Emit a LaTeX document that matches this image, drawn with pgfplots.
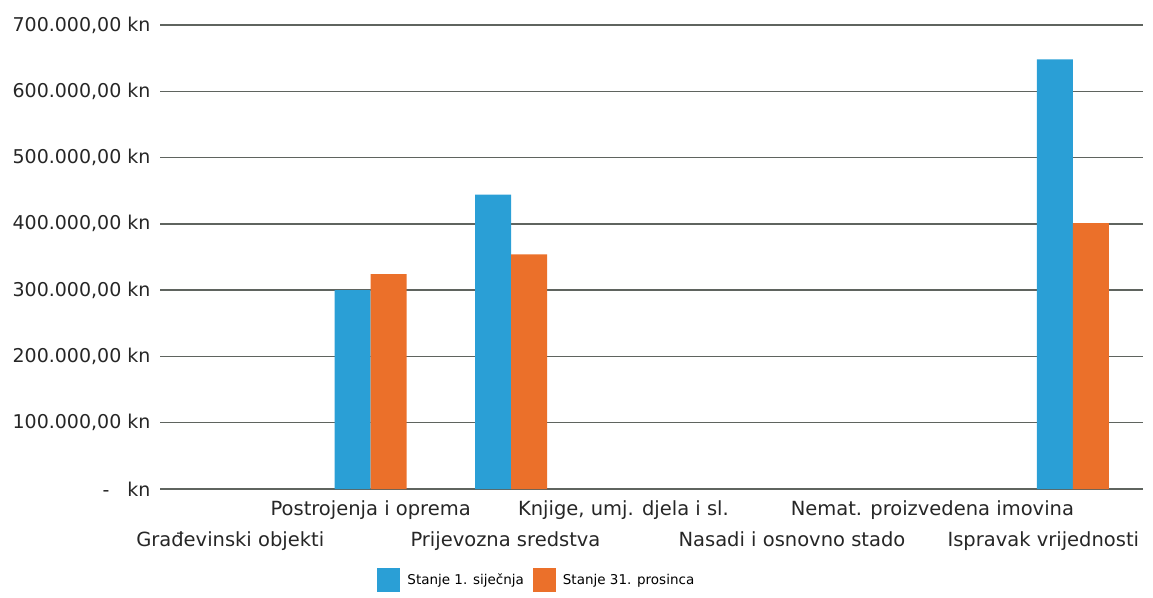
\documentclass[border=0pt]{standalone}
\usepackage{pgfplots}
\pgfplotsset{compat=1.18}
\usepackage{fontspec}
\setmainfont{DejaVu Sans}
\definecolor{cblue}{RGB}{42,159,214}
\definecolor{corange}{RGB}{235,112,42}
\definecolor{cgrid}{RGB}{95,100,95}
\begin{document}
\begin{tikzpicture}
\useasboundingbox (0,0) rectangle (1153pt,597pt);
\begin{axis}[
  at={(160pt,108pt)}, anchor=south west,
  scale only axis, width=983pt, height=464pt,
  xmin=-0.5, xmax=6.5, ymin=0, ymax=700000,
  ybar=0pt, bar width=36pt,
  axis line style={draw=none},
  major tick length=0pt,
  ymajorgrids, grid style={cgrid, line width=1.5pt},
  scaled y ticks=false,
  ytick={0,100000,200000,300000,400000,500000,600000,700000},
  yticklabels={{-\hspace{18pt}kn},{100.000,00 kn},{200.000,00 kn},{300.000,00 kn},{400.000,00 kn},{500.000,00 kn},{600.000,00 kn},{700.000,00 kn}},
  yticklabel style={font=\fontsize{19}{22}\selectfont, text=black!85, xshift=-6pt},
  xtick={0,1,1.96,2.8,4,5,5.79},
  xticklabels={{\strut\\[9pt]\strut Građevinski objekti},{\strut Postrojenja i oprema},{\strut\\[9pt]\strut Prijevozna sredstva},{\strut Knjige, umj. djela i sl.},{\strut\\[9pt]\strut Nasadi i osnovno stado},{\strut Nemat. proizvedena imovina},{\strut\\[9pt]\strut Ispravak vrijednosti}},
  xticklabel style={align=center, anchor=north, font=\fontsize{19.5}{22}\selectfont, text=black!85, yshift=-8pt},
  legend columns=2,
  legend style={at={(0.221,-0.196)}, anchor=west, draw=none, fill=none, inner sep=0pt,
    font=\fontsize{13.5}{16}\selectfont,
    /tikz/every even column/.append style={column sep=7pt}},
  legend image code/.code={\fill[#1,draw=none] (0pt,-12pt) rectangle (23pt,12pt);},
]
\addplot[fill=cblue, draw=none] coordinates {(1,300000) (2,444000) (6,648000)};
\addplot[fill=corange, draw=none] coordinates {(1,324000) (2,354000) (6,401000)};
\legend{\hspace{5pt}Stanje 1. siječnja, \hspace{5pt}Stanje 31. prosinca}
\end{axis}
\end{tikzpicture}
\end{document}
